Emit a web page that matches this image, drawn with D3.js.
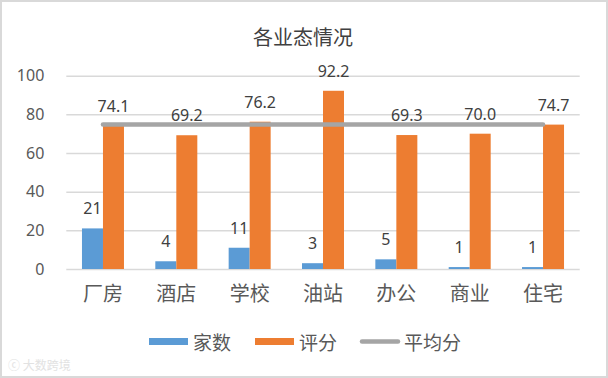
<!DOCTYPE html>
<html>
<head>
<meta charset="utf-8">
<script src="https://cdn.jsdelivr.net/npm/d3@7"></script>
<style>
  html, body { margin: 0; padding: 0; background: #fff; }
  svg { display: block; font-family: "Noto Sans", "Noto Sans CJK SC", sans-serif; }
</style>
</head>
<body>
<script>
let width = 608, height = 378
let margin = { top: 75.7, right: 28.3, bottom: 109, left: 66.3 }

let categories = ['厂房', '酒店', '学校', '油站', '办公', '商业', '住宅']
let counts = [21, 4, 11, 3, 5, 1, 1]
let scores = [74.1, 69.2, 76.2, 92.2, 69.3, 70.0, 74.7]
let average = [74.8, 74.8, 74.8, 74.8, 74.8, 74.8, 74.8]
let yTicks = [0, 20, 40, 60, 80, 100]
let seriesNames = ['家数', '评分', '平均分']
let colors = ['#5B9BD5', '#ED7D31', '#A5A5A5']

let data = categories.map((c, i) => ({ name: c, count: counts[i], score: scores[i], avg: average[i] }))

let svg = d3.select('body').append('svg')
    .attr('width', width).attr('height', height)

// outer frame
svg.append('rect')
    .attr('x', 1).attr('y', 1)
    .attr('width', width - 2).attr('height', height - 2)
    .attr('fill', '#fff').attr('stroke', '#d9d9d9').attr('stroke-width', 2)

let x = d3.scaleBand()
    .domain(categories)
    .range([margin.left, width - margin.right])
let y = d3.scaleLinear()
    .domain([0, 100])
    .range([height - margin.bottom, margin.top])
let barW = 21

// title
svg.append('text')
    .attr('x', 303).attr('y', 37)
    .attr('text-anchor', 'middle').attr('dominant-baseline', 'central')
    .attr('font-size', 20).attr('fill', '#404040')
    .text('各业态情况')

// y axis with gridlines
let yAxis = g => g
    .attr('transform', `translate(${margin.left}, 0)`)
    .call(d3.axisLeft(y).tickValues(yTicks).tickSize(0).tickPadding(22))
    .call(g => g.select('.domain').remove())
    .call(g => g.selectAll('.tick text')
        .attr('font-size', 16).attr('fill', '#595959')
        .attr('font-family', '"Noto Sans", sans-serif'))
    .call(g => g.selectAll('.tick line')
        .attr('x2', width - margin.right - margin.left)
        .attr('stroke', '#d9d9d9').attr('stroke-width', 1.5))
svg.append('g').call(yAxis)

// x axis labels
let xAxis = g => g
    .attr('transform', `translate(0, ${height - margin.bottom})`)
    .call(d3.axisBottom(x).tickSize(0).tickPadding(18))
    .call(g => g.select('.domain').remove())
    .call(g => g.selectAll('.tick text')
        .attr('font-size', 20).attr('fill', '#595959')
        .attr('font-family', '"Noto Sans CJK SC", sans-serif'))
svg.append('g').call(xAxis)

let cx = d => x(d.name) + x.bandwidth() / 2

// bars
svg.append('g').selectAll('rect').data(data).join('rect')
    .attr('x', d => cx(d) - barW)
    .attr('y', d => y(d.count))
    .attr('width', barW)
    .attr('height', d => y(0) - y(d.count))
    .attr('fill', colors[0])
svg.append('g').selectAll('rect').data(data).join('rect')
    .attr('x', d => cx(d))
    .attr('y', d => y(d.score))
    .attr('width', barW)
    .attr('height', d => y(0) - y(d.score))
    .attr('fill', colors[1])

// average line
let line = d3.line().x(d => cx(d)).y(d => y(d.avg))
svg.append('path')
    .datum(data)
    .attr('d', line)
    .attr('fill', 'none')
    .attr('stroke', colors[2]).attr('stroke-width', 4.5)
    .attr('stroke-linecap', 'round')

// data labels
let fmt = d3.format('.1f')
svg.append('g').selectAll('text').data(data).join('text')
    .attr('x', d => cx(d) - barW / 2)
    .attr('y', d => y(d.count) - 20)
    .attr('text-anchor', 'middle').attr('dominant-baseline', 'central')
    .attr('font-size', 16).attr('fill', '#404040')
    .text(d => d.count)
svg.append('g').selectAll('text').data(data).join('text')
    .attr('x', d => cx(d) + barW / 2)
    .attr('y', d => y(d.score) - 20)
    .attr('text-anchor', 'middle').attr('dominant-baseline', 'central')
    .attr('font-size', 16).attr('fill', '#404040')
    .text(d => fmt(d.score))

// legend
let legendX = [149, 255, 360]
let legend = svg.append('g')
seriesNames.forEach((name, i) => {
    let g = legend.append('g').attr('transform', `translate(${legendX[i]}, 341.5)`)
    if (i < 2) {
        g.append('rect').attr('x', 0).attr('y', -3.5).attr('width', 39).attr('height', 7).attr('fill', colors[i])
    } else {
        g.append('line').attr('x1', 2).attr('x2', 38).attr('y1', 0).attr('y2', 0)
            .attr('stroke', colors[i]).attr('stroke-width', 4.5).attr('stroke-linecap', 'round')
    }
    g.append('text').attr('x', 44).attr('y', 0)
        .attr('dominant-baseline', 'central')
        .attr('font-size', 19).attr('fill', '#595959')
        .attr('font-family', '"Noto Sans CJK SC", sans-serif')
        .text(name)
})

// faint watermark
svg.append('text')
    .attr('x', 8).attr('y', 364)
    .attr('dominant-baseline', 'central')
    .attr('font-size', 12).attr('fill', '#e2e2e2')
    .attr('font-family', '"Noto Sans CJK SC", sans-serif')
    .text('ⓒ 大数跨境')
</script>
</body>
</html>
